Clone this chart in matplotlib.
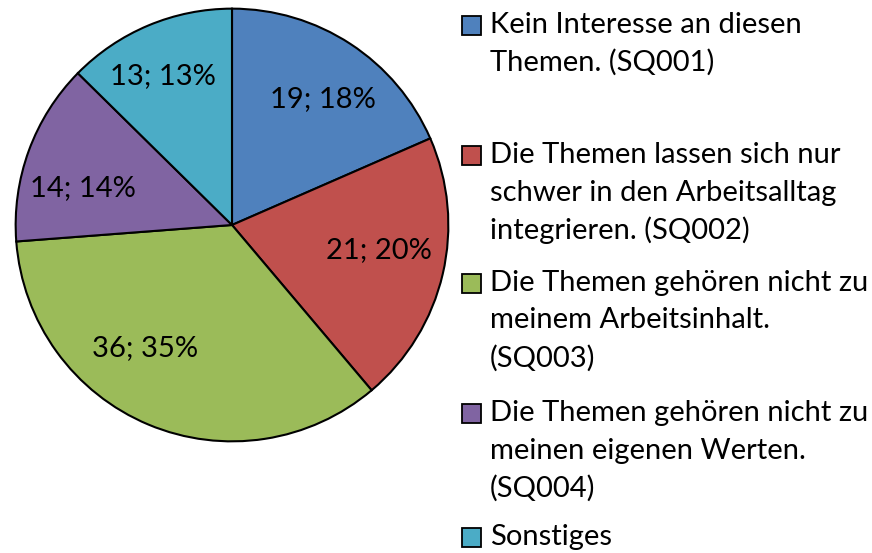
import matplotlib
matplotlib.use("Agg")
import matplotlib.pyplot as plt
from matplotlib.patches import Rectangle

categories = [
    "Kein Interesse an diesen\nThemen. (SQ001)",
    "Die Themen lassen sich nur\nschwer in den Arbeitsalltag\nintegrieren. (SQ002)",
    "Die Themen gehören nicht zu\nmeinem Arbeitsinhalt.\n(SQ003)",
    "Die Themen gehören nicht zu\nmeinen eigenen Werten.\n(SQ004)",
    "Sonstiges",
]
counts = [19, 21, 36, 14, 13]
colors = ["#4F81BD", "#C0504D", "#9BBB59", "#8064A2", "#4BACC6"]

plt.rcParams["font.family"] = ["Lato", "DejaVu Sans"]
FS = 21

fig = plt.figure(figsize=(8.72, 5.53), dpi=100)
ax = fig.add_axes([15 / 872, 111 / 553, 434 / 872, 434 / 553])

wedges, _ = ax.pie(counts, colors=colors, startangle=90, counterclock=False,
                   radius=1.0, wedgeprops=dict(edgecolor="black", linewidth=1.5))
ax.set_xlim(-1.003, 1.003)
ax.set_ylim(-1.003, 1.003)
ax.set_aspect("equal")
ax.axis("off")

# data labels "n; p%", placed inside each slice
total = sum(counts)
label_pos = [(0.42, 0.58), (0.68, -0.115), (-0.40, -0.57), (-0.69, 0.17), (-0.32, 0.69)]
for n, (x, y) in zip(counts, label_pos):
    ax.text(x, y, f"{n}; {round(100 * n / total)}%", ha="center", va="center",
            fontsize=FS, color="black")

# legend on the right, one block per category
line_h = 37.5
item_top = [25, 155, 283, 413, 537]
for label, col, y0 in zip(categories, colors, item_top):
    fig.patches.append(Rectangle((462 / 872, 1 - (y0 + 10) / 553), 19 / 872, 19 / 553,
                                 transform=fig.transFigure, facecolor=col,
                                 edgecolor="black", linewidth=1.3))
    for i, line in enumerate(label.split("\n")):
        fig.text(490 / 872, 1 - (y0 + i * line_h) / 553, line, ha="left", va="center",
                 fontsize=FS, color="black")

fig.savefig("out.png", dpi=100)
